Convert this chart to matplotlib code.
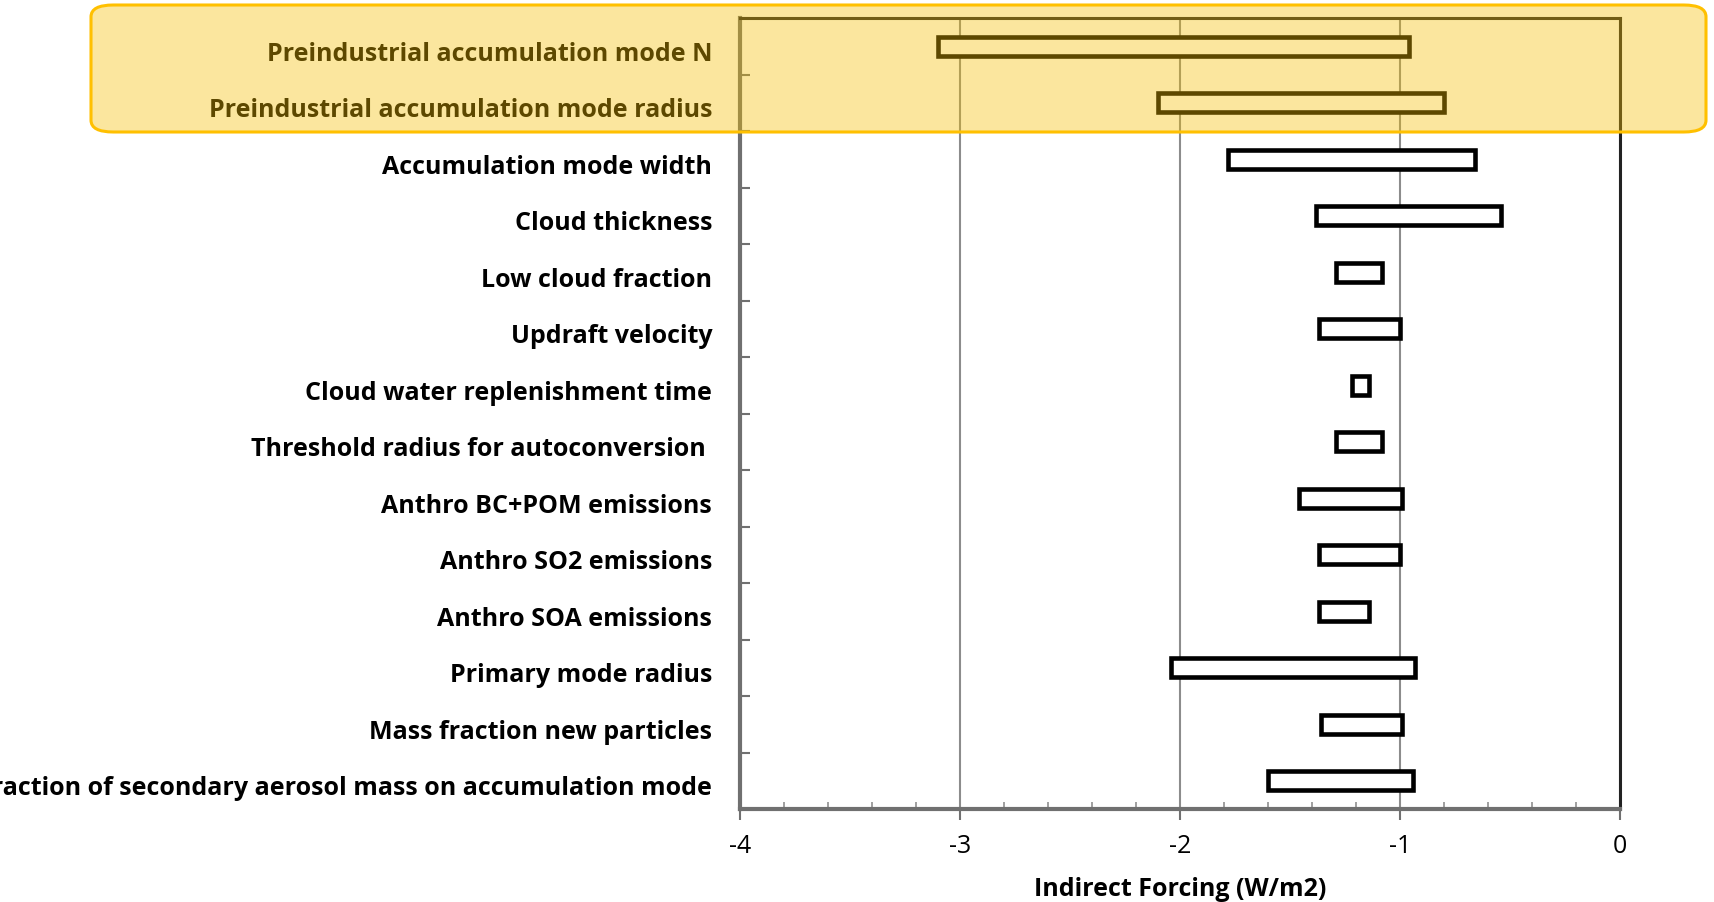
import matplotlib
matplotlib.use("Agg")
import matplotlib.pyplot as plt
from matplotlib.patches import FancyBboxPatch
from matplotlib.ticker import MultipleLocator
from matplotlib.transforms import ScaledTranslation
import matplotlib.patheffects as pe

# Parameter sensitivity of indirect aerosol forcing (W/m2): range low/high per parameter
parameters = [
    "Preindustrial accumulation mode N",
    "Preindustrial accumulation mode radius",
    "Accumulation mode width",
    "Cloud thickness",
    "Low cloud fraction",
    "Updraft velocity",
    "Cloud water replenishment time",
    "Threshold radius for autoconversion ",
    "Anthro BC+POM emissions",
    "Anthro SO2 emissions",
    "Anthro SOA emissions",
    "Primary mode radius",
    "Mass fraction new particles",
    "Fraction of secondary aerosol mass on accumulation mode",
]
forcing_low = [-3.10, -2.10, -1.78, -1.38, -1.29, -1.37, -1.22, -1.29,
               -1.46, -1.37, -1.37, -2.04, -1.36, -1.60]
forcing_high = [-0.96, -0.80, -0.66, -0.54, -1.08, -1.00, -1.14, -1.08,
                -0.99, -1.00, -1.14, -0.93, -0.99, -0.94]
x_ticks = [-4, -3, -2, -1, 0]

plt.rcParams["font.family"] = ["Open Sans", "DejaVu Sans"]

fig = plt.figure(figsize=(17.14, 9.03), dpi=100)
ax = fig.add_axes([740 / 1714, 1 - 810 / 903, 880 / 1714, 791 / 903])

n = len(parameters)
ypos = list(range(n))
widths = [h - l for l, h in zip(forcing_low, forcing_high)]
bars = ax.barh(ypos, widths, left=forcing_low, height=0.33,
               facecolor="white", edgecolor="black", linewidth=3.3, zorder=3)
for b in bars:
    b.set_path_effects([pe.SimplePatchShadow(offset=(1.5, -1.5), shadow_rgbFace="0.5", alpha=0.35),
                        pe.Normal()])

ax.set_xlim(-4, 0)
ax.set_ylim(n - 0.5, -0.5)
ax.set_xticks(x_ticks)
ax.set_xticklabels([str(t) for t in x_ticks])
ax.xaxis.set_minor_locator(MultipleLocator(0.2))
ax.grid(axis="x", which="major", color="#8c8c8c", linewidth=1.5, zorder=1)

ax.set_yticks(ypos)
ax.set_yticklabels(parameters, fontsize=18, fontweight="bold")
ax.set_yticks([i + 0.5 for i in range(-1, n)], minor=True)
ax.tick_params(axis="y", which="major", length=0, pad=20)
ax.tick_params(axis="y", which="minor", direction="in", length=7, width=1.5, color="#707070")
ax.tick_params(axis="x", which="major", direction="out", length=8, width=1.5,
               color="#707070", labelsize=18, pad=9)
ax.tick_params(axis="x", which="minor", direction="in", length=5, width=1.2, color="#909090")

# Nudge the category labels slightly below their row centres
shift = ScaledTranslation(0, -4 / 100, fig.dpi_scale_trans)
for tick in ax.yaxis.get_major_ticks():
    tick.label1.set_transform(tick.label1.get_transform() + shift)

for side in ("left", "bottom"):
    ax.spines[side].set_color("#707070")
    ax.spines[side].set_linewidth(3)
for side in ("top", "right"):
    ax.spines[side].set_color("#222222")
    ax.spines[side].set_linewidth(2.2)

ax.set_xlabel("Indirect Forcing (W/m2)", fontsize=18, fontweight="bold", labelpad=13)

# Translucent highlight over the first rows
box = FancyBboxPatch((91 / 1714, 1 - 133 / 903), (1706 - 91) / 1714, (133 - 6) / 903,
                     boxstyle="round,pad=0,rounding_size=0.013",
                     transform=fig.transFigure, facecolor=(0.96, 0.75, 0.0, 0.38),
                     edgecolor="#FFC000", linewidth=2.2, zorder=10)
fig.patches.append(box)

fig.savefig("out.png", dpi=100)
